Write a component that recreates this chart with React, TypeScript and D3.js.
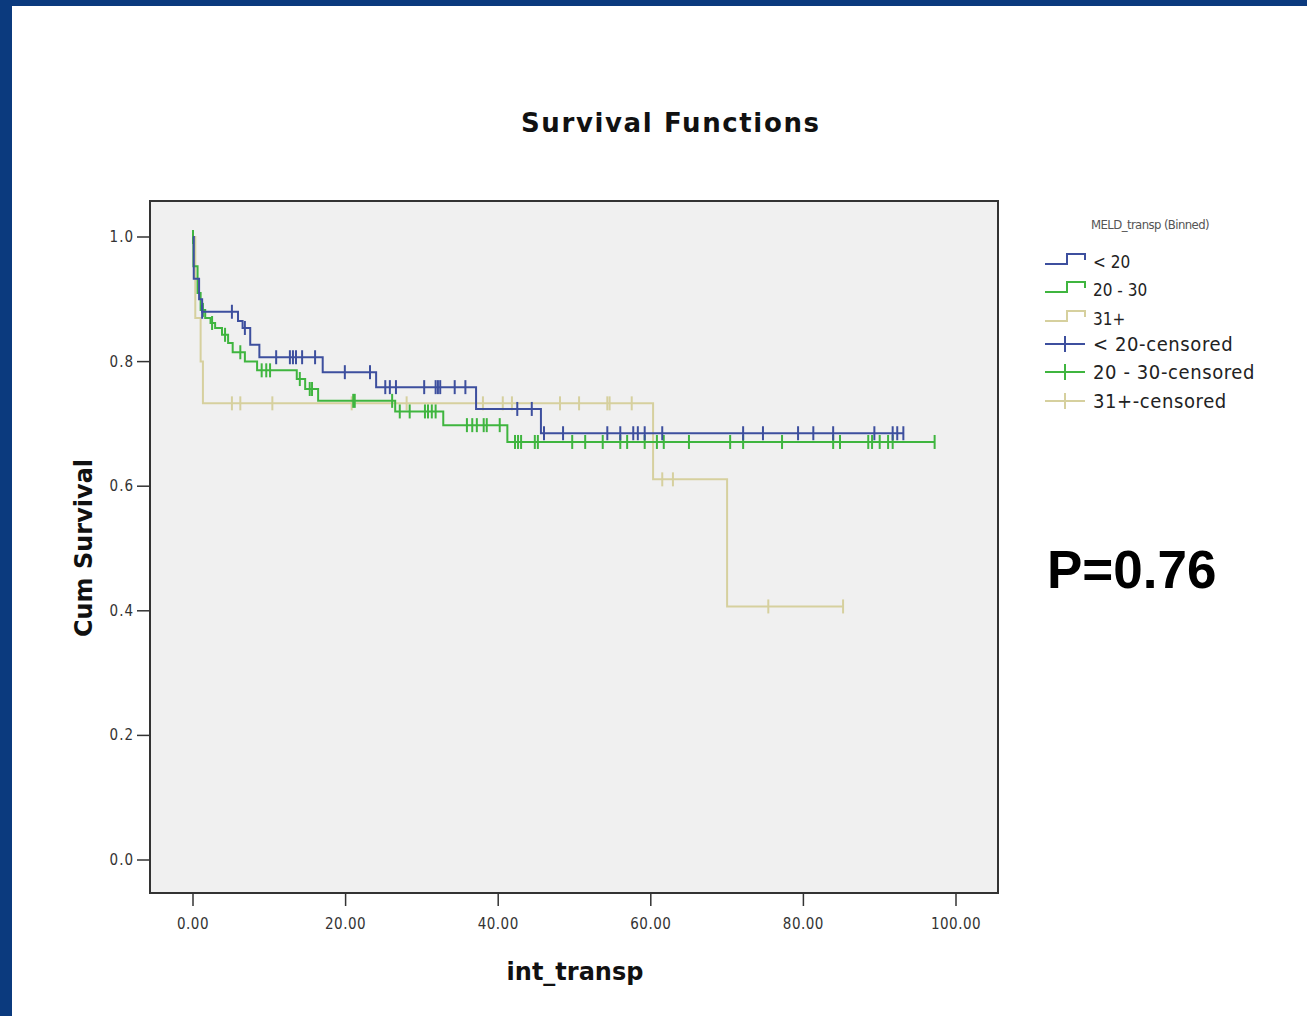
import React from "react";
import * as d3 from "d3";

// ---- data (time in months, survival) ----
const groups = ["< 20", "20 - 30", "31+"];
const blueSteps: [number, number][] = [
  [0, 1.0], [0.1, 0.933], [0.8, 0.9], [1.2, 0.88], [5.9, 0.865], [6.5, 0.854],
  [7.5, 0.827], [8.7, 0.807], [17.0, 0.783], [24.0, 0.759], [37.1, 0.724], [45.6, 0.685],
];
const blueEnd = 93.1;
const blueCensored = [1.2, 5.1, 6.8, 10.9, 12.7, 13.1, 13.5, 14.3, 16.0, 19.9, 23.2, 25.2, 25.8, 26.6,
  30.3, 31.8, 32.1, 32.4, 34.3, 35.7, 42.5, 44.4, 46.0, 48.5, 54.3, 56.0, 57.7, 58.3, 59.2, 61.5,
  72.1, 74.7, 79.3, 81.3, 83.9, 89.3, 91.7, 92.3, 93.1];

const greenSteps: [number, number][] = [
  [0, 1.0], [0.05, 0.953], [0.6, 0.91], [1.0, 0.883], [1.6, 0.87], [2.3, 0.862], [2.9, 0.854],
  [3.8, 0.843], [4.6, 0.83], [5.2, 0.815], [6.8, 0.8], [8.4, 0.786], [13.6, 0.772], [14.7, 0.756],
  [16.4, 0.737], [26.5, 0.72], [32.8, 0.698], [41.2, 0.671],
];
const greenEnd = 97.2;
const greenCensored = [0.0, 1.3, 2.5, 4.2, 6.2, 9.0, 9.6, 10.1, 14.0, 15.3, 15.6, 21.0, 21.2, 26.1,
  27.1, 28.4, 30.4, 30.8, 31.3, 31.8, 35.9, 36.6, 37.2, 38.1, 38.5, 40.2, 42.2, 42.6, 43.0, 44.8,
  45.2, 49.7, 51.4, 53.7, 56.0, 56.9, 59.2, 60.8, 61.7, 65.0, 70.4, 72.1, 77.2, 83.9, 84.8, 88.5,
  89.0, 90.0, 91.1, 91.7, 97.2];

const beigeSteps: [number, number][] = [
  [0, 1.0], [0.3, 0.87], [1.0, 0.8], [1.3, 0.733], [60.3, 0.611], [70.0, 0.407],
];
const beigeEnd = 85.2;
const beigeCensored = [5.1, 6.2, 10.4, 20.8, 28.0, 38.0, 40.6, 41.8, 48.1, 50.6, 54.3, 54.6, 57.5,
  61.5, 62.9, 75.4, 85.2];

const xTicks = [0, 20, 40, 60, 80, 100];
const yTicks = [0, 0.2, 0.4, 0.6, 0.8, 1.0];

const colors = ["#3d4f9e", "#3fb53f", "#d6d09e"];

function survAt(steps: [number, number][], t: number) {
  let s = steps[0][1];
  for (const [tt, ss] of steps) if (tt <= t) s = ss;
  return s;
}

export default function App() {
  const x = d3.scaleLinear().domain([0, 100]).range([193, 956]);
  const y = d3.scaleLinear().domain([0, 1]).range([860, 237]);
  const series = [
    { steps: blueSteps, end: blueEnd, cens: blueCensored, color: colors[0] },
    { steps: greenSteps, end: greenEnd, cens: greenCensored, color: colors[1] },
    { steps: beigeSteps, end: beigeEnd, cens: beigeCensored, color: colors[2] },
  ];
  const line = d3.line<[number, number]>().x((d) => x(d[0])).y((d) => y(d[1])).curve(d3.curveStepAfter);
  const font = "'DejaVu Sans', Verdana, sans-serif";
  const tickFont = "'DejaVu Sans Condensed', 'DejaVu Sans', sans-serif";
  const drawOrder = [2, 1, 0];
  const legendRows = [
    { label: "< 20", type: "line", c: 0 },
    { label: "20 - 30", type: "line", c: 1 },
    { label: "31+", type: "line", c: 2 },
    { label: "< 20-censored", type: "cens", c: 0 },
    { label: "20 - 30-censored", type: "cens", c: 1 },
    { label: "31+-censored", type: "cens", c: 2 },
  ];
  const legendY = [261, 289, 318, 344, 372, 401];
  return (
    <svg width={1307} height={1016} style={{ position: "absolute", left: 0, top: 0 }}>
      <rect x={0} y={0} width={1307} height={1016} fill="#ffffff" />
      <rect x={0} y={0} width={1307} height={6} fill="#0b3a7e" />
      <rect x={0} y={0} width={12} height={1016} fill="#0b3a7e" />
      <text x={670} y={132} textAnchor="middle" fontFamily={font} fontWeight="bold" fontSize={26}
        textLength={298} lengthAdjust="spacing" fill="#111">
        Survival Functions
      </text>
      {/* plot area */}
      <rect x={150} y={201} width={848} height={692} fill="#f0f0f0" stroke="#333" strokeWidth={2} />
      {/* y axis ticks */}
      {yTicks.map((v) => (
        <g key={"y" + v}>
          <line x1={137} x2={150} y1={y(v)} y2={y(v)} stroke="#333" strokeWidth={1.5} />
          <text x={134} y={y(v) + 5} textAnchor="end" fontFamily={tickFont} fontSize={15} letterSpacing={1} fill="#333">
            {v.toFixed(1)}
          </text>
        </g>
      ))}
      {xTicks.map((v) => (
        <g key={"x" + v}>
          <line x1={x(v)} x2={x(v)} y1={893} y2={906} stroke="#333" strokeWidth={1.5} />
          <text x={x(v)} y={929} textAnchor="middle" fontFamily={tickFont} fontSize={15} letterSpacing={0.5} fill="#333">
            {v.toFixed(2)}
          </text>
        </g>
      ))}
      <text x={575} y={980} textAnchor="middle" fontFamily={font} fontWeight="bold" fontSize={24} fill="#111">
        int_transp
      </text>
      <text transform="translate(92,548) rotate(-90)" textAnchor="middle" fontFamily={font} fontWeight="bold" fontSize={24} fill="#111">
        Cum Survival
      </text>
      {/* curves */}
      {drawOrder.map((i) => {
        const s = series[i];
        const pts: [number, number][] = [...s.steps, [s.end, s.steps[s.steps.length - 1][1]]];
        return (
          <g key={"s" + i}>
            <path d={line(pts) || ""} fill="none" stroke={s.color} strokeWidth={2} />
            {s.cens.map((t, k) => (
              <line key={k} x1={x(t)} x2={x(t)} y1={y(survAt(s.steps, t)) - 7} y2={y(survAt(s.steps, t)) + 7}
                stroke={s.color} strokeWidth={2} />
            ))}
          </g>
        );
      })}
      {/* legend */}
      <text x={1150} y={229} textAnchor="middle" fontFamily={tickFont} fontSize={13} fill="#555" letterSpacing={-0.6}>
        MELD_transp (Binned)
      </text>
      {legendRows.map((r, k) => {
        const cy = legendY[k];
        const c = colors[r.c];
        return (
          <g key={"l" + k}>
            {r.type === "line" ? (
              <path d={`M1045,${cy + 3}H1067V${cy - 7}H1085V${cy - 1}`} fill="none" stroke={c} strokeWidth={2} />
            ) : (
              <g>
                <line x1={1045} x2={1085} y1={cy} y2={cy} stroke={c} strokeWidth={2} />
                <line x1={1065} x2={1065} y1={cy - 8} y2={cy + 8} stroke={c} strokeWidth={2} />
              </g>
            )}
            <text x={1093} y={cy + 7} fontFamily={tickFont} fontSize={r.type === "line" ? 17 : 20}
              letterSpacing={r.type === "line" ? 0 : 0.6} fill="#222">
              {r.label}
            </text>
          </g>
        );
      })}
      <text x={1047} y={588} fontFamily="'Liberation Sans', Arial, sans-serif" fontWeight="bold" fontSize={53} fill="#000">
        P=0.76
      </text>
    </svg>
  );
}
